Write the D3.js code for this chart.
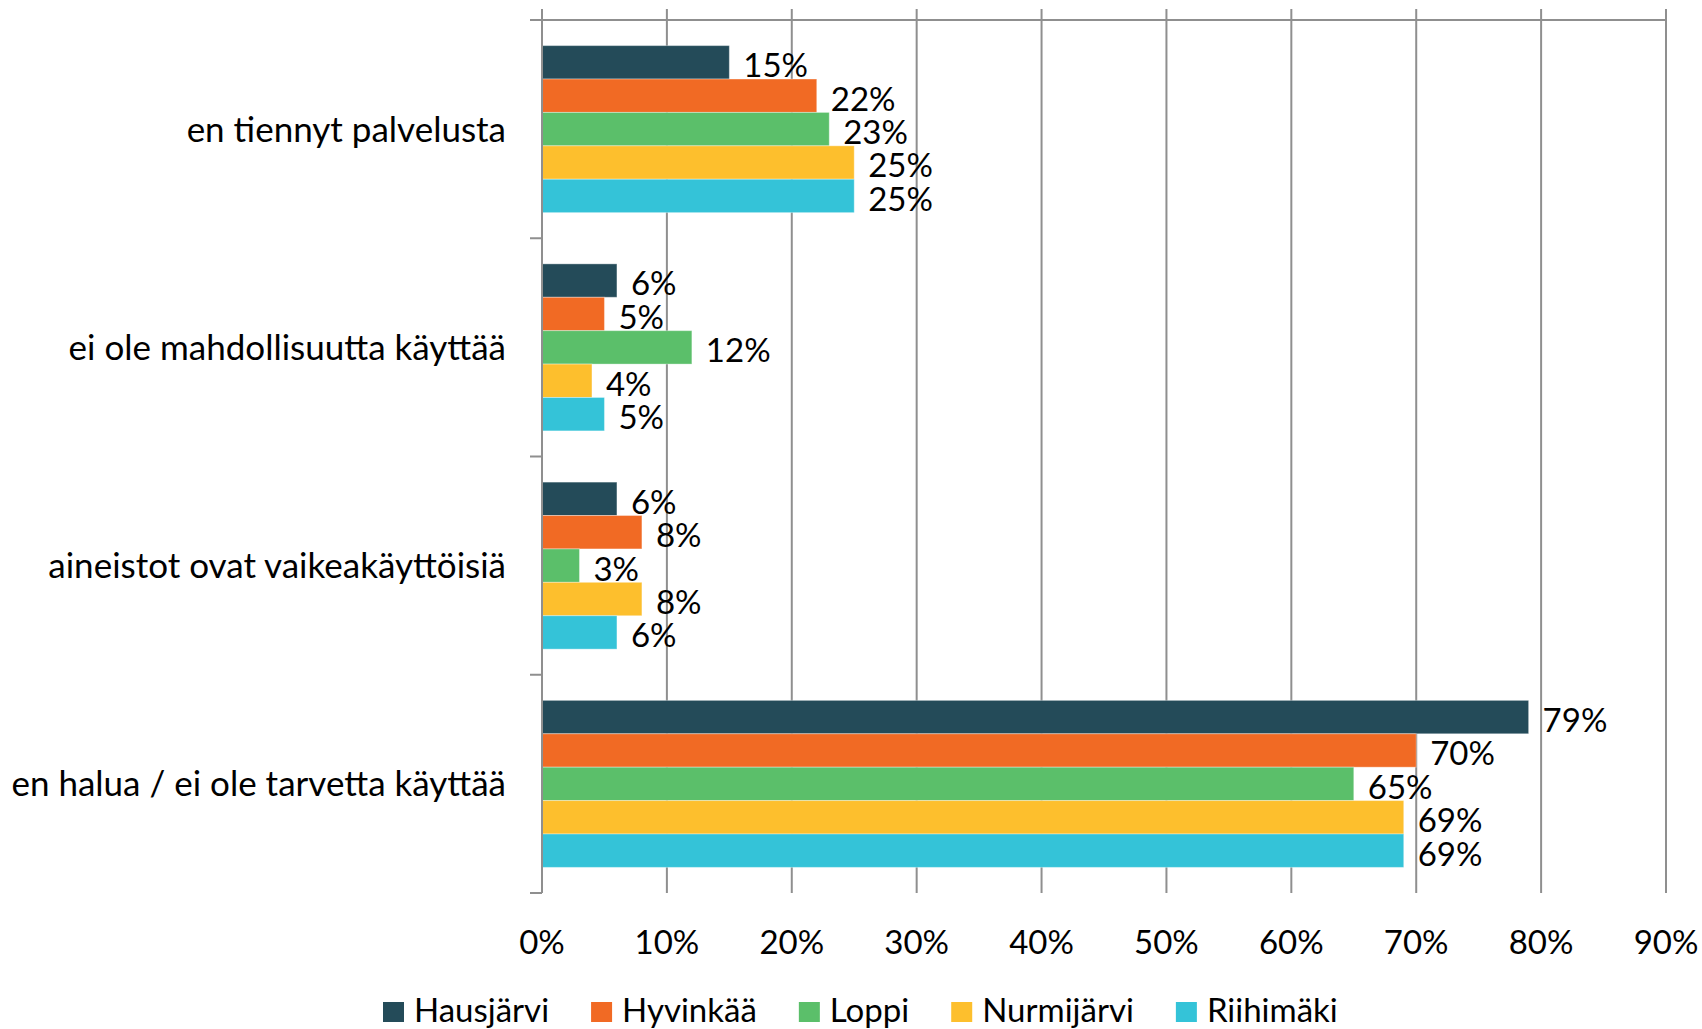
<!DOCTYPE html>
<html>
<head>
<meta charset="utf-8">
<script src="https://cdn.jsdelivr.net/npm/d3@7"></script>
<style>
  html, body { margin: 0; padding: 0; background: #ffffff; }
  svg { display: block; }
  text { font-family: Lato, "Open Sans", sans-serif; fill: #000; }
</style>
</head>
<body>
<svg id="chart" width="1702" height="1029"></svg>
<script>
const categories = [
  "en tiennyt palvelusta",
  "ei ole mahdollisuutta käyttää",
  "aineistot ovat vaikeakäyttöisiä",
  "en halua / ei ole tarvetta käyttää"
];
const seriesNames = ["Hausjärvi", "Hyvinkää", "Loppi", "Nurmijärvi", "Riihimäki"];
const seriesColors = ["#244B59", "#F16A24", "#5BBF6A", "#FDBF2D", "#34C3D8"];
const hausjarvi  = [15, 6, 6, 79];
const hyvinkaa   = [22, 5, 8, 70];
const loppi      = [23, 12, 3, 65];
const nurmijarvi = [25, 4, 8, 69];
const riihimaki  = [25, 5, 6, 69];
const seriesValues = [hausjarvi, hyvinkaa, loppi, nurmijarvi, riihimaki];
const xTicks = [0, 10, 20, 30, 40, 50, 60, 70, 80, 90];

(function () {
const svg = d3.select("#chart");
const pLeft = 542, pRight = 1666, pTop = 20, pBottom = 893;
const gridColor = "#8f8f8f";

const x = d3.scaleLinear().domain([0, 90]).range([pLeft, pRight]);
const y0 = d3.scaleBand().domain(categories).range([pTop, pBottom]).padding(0);
const y1 = d3.scaleBand().domain(seriesNames).range([0, y0.bandwidth()])
  .paddingInner(0).paddingOuter(0.767);

// vertical gridlines
svg.append("g").selectAll("line").data(xTicks).join("line")
  .attr("x1", d => x(d)).attr("x2", d => x(d))
  .attr("y1", pTop - 11).attr("y2", pBottom)
  .attr("stroke", gridColor).attr("stroke-width", 2);

// top horizontal line
svg.append("line")
  .attr("x1", pLeft - 12).attr("x2", pRight)
  .attr("y1", pTop).attr("y2", pTop)
  .attr("stroke", gridColor).attr("stroke-width", 2);

// category ticks on left
const boundaries = categories.map(c => y0(c)).concat([pBottom]);
svg.append("g").selectAll("line").data(boundaries).join("line")
  .attr("x1", pLeft - 12).attr("x2", pLeft)
  .attr("y1", d => d).attr("y2", d => d)
  .attr("stroke", gridColor).attr("stroke-width", 2);

// bars
const rows = [];
categories.forEach((c, i) => {
  seriesNames.forEach((s, j) => {
    rows.push({ cat: c, series: s, value: seriesValues[j][i], color: seriesColors[j] });
  });
});

svg.append("g").selectAll("rect").data(rows).join("rect")
  .attr("x", x(0))
  .attr("y", d => y0(d.cat) + y1(d.series))
  .attr("width", d => x(d.value) - x(0))
  .attr("height", y1.bandwidth())
  .attr("fill", d => d.color)
  .attr("stroke", "rgba(255,255,255,0.35)")
  .attr("stroke-width", 1);

// y axis line
svg.append("line")
  .attr("x1", pLeft).attr("x2", pLeft)
  .attr("y1", pTop - 11).attr("y2", pBottom)
  .attr("stroke", gridColor).attr("stroke-width", 2);

// bar value labels
const fs = 33;
svg.append("g").selectAll("text").data(rows).join("text")
  .attr("x", d => x(d.value) + 14)
  .attr("y", d => y0(d.cat) + y1(d.series) + y1.bandwidth() / 2 + fs * 0.36 + 3)
  .attr("font-size", fs)
  .text(d => d.value + "%");

// category labels
const cfs = 35;
svg.append("g").selectAll("text").data(categories).join("text")
  .attr("x", 506)
  .attr("y", d => y0(d) + y0.bandwidth() / 2 + cfs * 0.36)
  .attr("text-anchor", "end")
  .attr("font-size", cfs)
  .text(d => d);

// x tick labels
svg.append("g").selectAll("text").data(xTicks).join("text")
  .attr("x", d => x(d))
  .attr("y", 954)
  .attr("text-anchor", "middle")
  .attr("font-size", fs)
  .text(d => d + "%");

// legend
const legend = svg.append("g");
let lx = 383;
seriesNames.forEach((s, j) => {
  legend.append("rect")
    .attr("x", lx).attr("y", 1002).attr("width", 21).attr("height", 20)
    .attr("fill", seriesColors[j]);
  const t = legend.append("text")
    .attr("x", lx + 31).attr("y", 1022)
    .attr("font-size", 33)
    .text(s);
  lx = lx + 31 + t.node().getComputedTextLength() + 42;
});
})();
</script>
</body>
</html>
